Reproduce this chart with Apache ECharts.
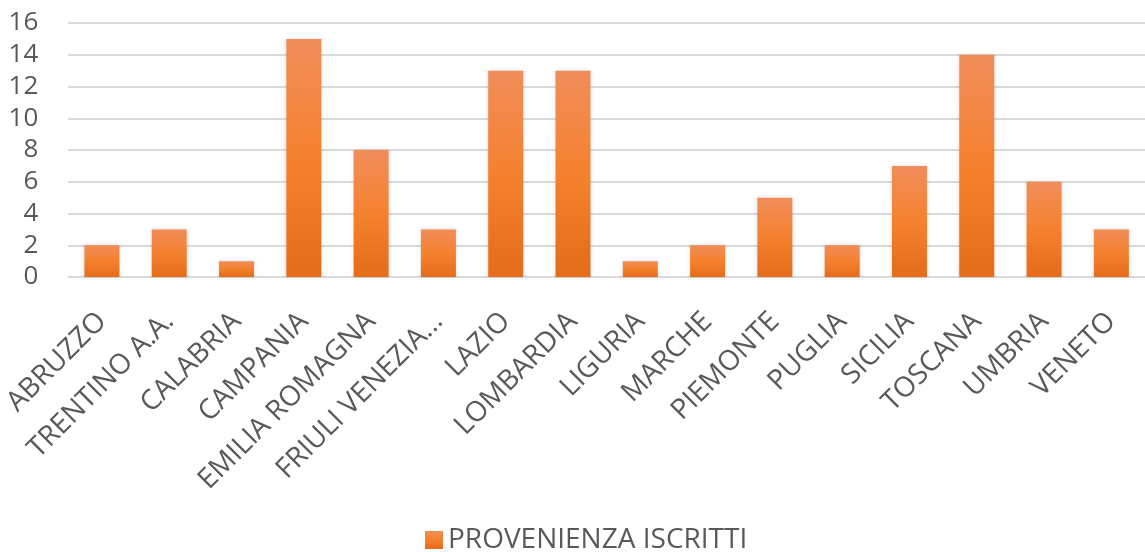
<!DOCTYPE html>
<html>
<head>
<meta charset="utf-8">
<script src="https://cdn.jsdelivr.net/npm/echarts@6/dist/echarts.min.js"></script>
<style>
  html, body { margin: 0; padding: 0; background: #fff; }
  #chart { width: 1145px; height: 552px; }
</style>
</head>
<body>
<div id="chart"></div>
<script>
var regioni = ['ABRUZZO', 'TRENTINO A.A.', 'CALABRIA', 'CAMPANIA', 'EMILIA ROMAGNA', 'FRIULI VENEZIA GIULIA',
    'LAZIO', 'LOMBARDIA', 'LIGURIA', 'MARCHE', 'PIEMONTE', 'PUGLIA', 'SICILIA', 'TOSCANA', 'UMBRIA', 'VENETO'];
var iscritti = [2, 3, 1, 15, 8, 3, 13, 13, 1, 2, 5, 2, 7, 14, 6, 3];
var serieNome = 'PROVENIENZA ISCRITTI';

var font = 'Open Sans';
var barColor = new echarts.graphic.LinearGradient(0, 0, 0, 1, [
    { offset: 0, color: '#F18D5A' },
    { offset: 0.5, color: '#F5812E' },
    { offset: 1, color: '#E46C1A' }
]);

var myChart = echarts.init(document.getElementById('chart'));
var option = {
    animation: false,
    grid: {
        left: 67,
        right: -2,
        top: 23,
        bottom: 275
    },
    legend: {
        top: 526,
        left: 425,
        padding: 0,
        itemWidth: 18,
        itemHeight: 18,
        itemGap: 10,
        icon: 'rect',
        textStyle: { color: '#595959', fontSize: 28, fontFamily: font },
        data: [serieNome]
    },
    xAxis: {
        type: 'category',
        data: regioni,
        axisLine: { show: false },
        axisTick: { show: false },
        axisLabel: {
            interval: 0,
            rotate: 45,
            margin: 40,
            color: '#595959',
            fontSize: 28,
            fontFamily: font,
            // nomi troppo lunghi tagliati come nell'originale
            formatter: function (v) {
                return v.length > 16 ? v.slice(0, 14) + '...' : v;
            }
        }
    },
    yAxis: {
        type: 'value',
        min: 0,
        max: 16,
        interval: 2,
        axisLine: { show: false },
        axisTick: { show: false },
        axisLabel: {
            margin: 30,
            color: '#595959',
            fontSize: 26,
            fontFamily: font
        },
        splitLine: { lineStyle: { color: '#D9D9D9', width: 2 } }
    },
    series: [{
        name: serieNome,
        type: 'bar',
        data: iscritti,
        barWidth: '52%',
        itemStyle: {
            color: barColor,
            shadowColor: 'rgba(0,0,0,0.15)',
            shadowBlur: 4
        }
    }]
};
myChart.setOption(option);
</script>
</body>
</html>
